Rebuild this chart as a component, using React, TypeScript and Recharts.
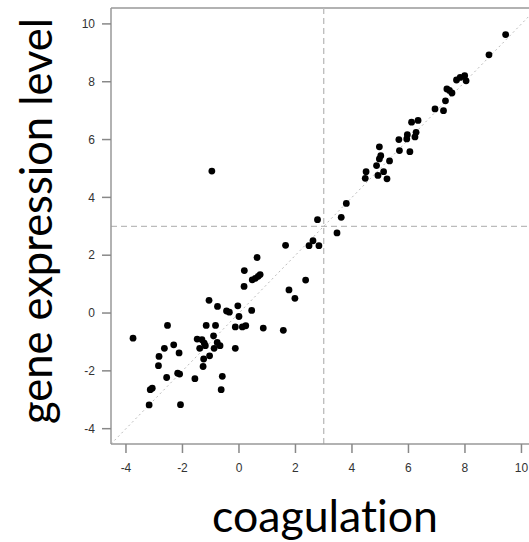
import React from "react";
import {
  ScatterChart,
  Scatter,
  XAxis,
  YAxis,
  ReferenceLine,
} from "recharts";

// coagulation score (x) vs gene expression level (y)
const coagulation = [
  -3.75, -2.53, -2.64, -2.31, -2.83, -2.85, -2.12, -2.56, -2.17, -2.1,
  -3.07, -3.14, -3.18, -2.07, -1.56, -1.06, -1.16, -0.83, -0.76, -1.48,
  -1.31, -1.23, -1.39, -1.19, -0.9, -0.77, -0.67, -0.88, -1.04, -1.25,
  -1.27, -0.59, -0.63, -0.13, -0.13, -0.44, -0.34, -0.04, 0.0, 0.12,
  0.24, 0.45, 0.86, 0.18, 0.19, 0.64, 0.47, 0.58, 0.68, 0.75,
  1.65, 1.57, 1.77, 1.98, 2.36, 2.48, 2.62, 2.83, 3.47, -0.96,
  2.78, 3.62, 3.8, 4.47, 4.5, 4.92, 5.24, 5.12, 4.87, 5.02,
  4.97, 5.33, 4.97, 5.68, 6.05, 5.66, 5.94, 5.96, 6.23, 6.27,
  6.11, 6.34, 6.94, 7.24, 7.31, 7.36, 7.45, 7.54, 7.7, 7.83,
  7.99, 8.04, 8.85, 9.44,
];

const expression = [
  -0.87, -0.43, -1.22, -1.1, -1.5, -1.82, -1.38, -2.23, -2.08, -2.11,
  -2.6, -2.65, -3.18, -3.17, -2.27, 0.44, -0.43, -0.43, 0.23, -0.9,
  -0.92, -1.04, -1.22, -1.13, -0.79, -1.02, -1.13, -1.22, -1.48, -1.59,
  -1.85, -2.19, -2.65, -1.22, -0.48, 0.07, 0.03, 0.25, -0.12, -0.48,
  -0.44, 0.09, -0.52, 0.92, 1.47, 1.92, 1.15, 1.2, 1.27, 1.33,
  2.34, -0.6, 0.8, 0.51, 1.14, 2.33, 2.5, 2.33, 2.77, 4.91,
  3.23, 3.31, 3.79, 4.66, 4.89, 4.76, 4.64, 4.89, 5.1, 5.44,
  5.33, 5.26, 5.75, 5.62, 5.58, 6.0, 6.02, 6.17, 6.09, 6.25,
  6.6, 6.66, 7.06, 7.0, 7.34, 7.75, 7.7, 7.61, 8.06, 8.15,
  8.21, 8.03, 8.93, 9.63,
];

const axisTicks = [-4, -2, 0, 2, 4, 6, 8, 10];
const lo = -4.53;
const hi = 10.55;
const cutoff = 3;

const points = coagulation.map((x, i) => ({ x, y: expression[i] }));

const tickStyle = { fontFamily: "Liberation Sans, Arial, sans-serif", fontSize: 12, fill: "#333" };
const titleStyle = { fontVariantLigatures: "none" as const, fontFeatureSettings: '"liga" 0, "dlig" 0' };

function Dot(props: any) {
  return <circle cx={props.cx} cy={props.cy} r={3.4} fill="#000" />;
}

function XTitle(props: any) {
  const vb = props.viewBox;
  const cx = vb.x + vb.width / 2 + 1;
  return (
    <text
      x={cx}
      y={vb.y + 88}
      textAnchor="middle"
      fontFamily="Lato, sans-serif"
      fontSize={44}
      fill="#000"
      style={titleStyle}
      textLength={226}
      lengthAdjust="spacingAndGlyphs"
    >
      coagulation
    </text>
  );
}

function YTitle(props: any) {
  const vb = props.viewBox;
  const cx = vb.x + 52;
  const cy = vb.y + vb.height / 2 - 5;
  return (
    <text
      x={cx}
      y={cy}
      transform={`rotate(-90 ${cx} ${cy})`}
      textAnchor="middle"
      fontFamily="Lato, sans-serif"
      fontSize={44}
      fill="#000"
      style={titleStyle}
      textLength={406}
      lengthAdjust="spacingAndGlyphs"
    >
      gene expression level
    </text>
  );
}

export default function App() {
  return (
    <div
      style={{
        position: "absolute",
        left: 0,
        top: 0,
        width: 529,
        height: 542,
        overflow: "hidden",
        background: "#fff",
      }}
    >
      <ScatterChart width={540} height={542} margin={{ top: 8, right: 3, bottom: 0, left: 0 }}>
        <XAxis
          type="number"
          dataKey="x"
          domain={[lo, hi]}
          ticks={axisTicks}
          allowDataOverflow
          height={98}
          stroke="#999"
          strokeWidth={1.5}
          tickSize={9}
          tickMargin={10}
          tick={tickStyle}
          tickLine={{ stroke: "#888" }}
          label={{ content: XTitle }}
        />
        <YAxis
          type="number"
          dataKey="y"
          domain={[lo, hi]}
          ticks={axisTicks}
          allowDataOverflow
          width={111}
          stroke="#999"
          strokeWidth={1.5}
          tickSize={9}
          tickMargin={7}
          tick={tickStyle}
          tickLine={{ stroke: "#888" }}
          label={{ content: YTitle }}
        />
        <ReferenceLine y={hi} stroke="#999" strokeWidth={1.5} />
        <ReferenceLine
          segment={[
            { x: lo, y: lo },
            { x: hi, y: hi },
          ]}
          stroke="#bbb"
          strokeDasharray="2 3"
        />
        <ReferenceLine x={cutoff} stroke="#bbb" strokeWidth={1.3} strokeDasharray="6 4" />
        <ReferenceLine y={cutoff} stroke="#bbb" strokeWidth={1.3} strokeDasharray="6 4" />
        <Scatter data={points} fill="#000" shape={Dot} isAnimationActive={false} />
      </ScatterChart>
    </div>
  );
}
